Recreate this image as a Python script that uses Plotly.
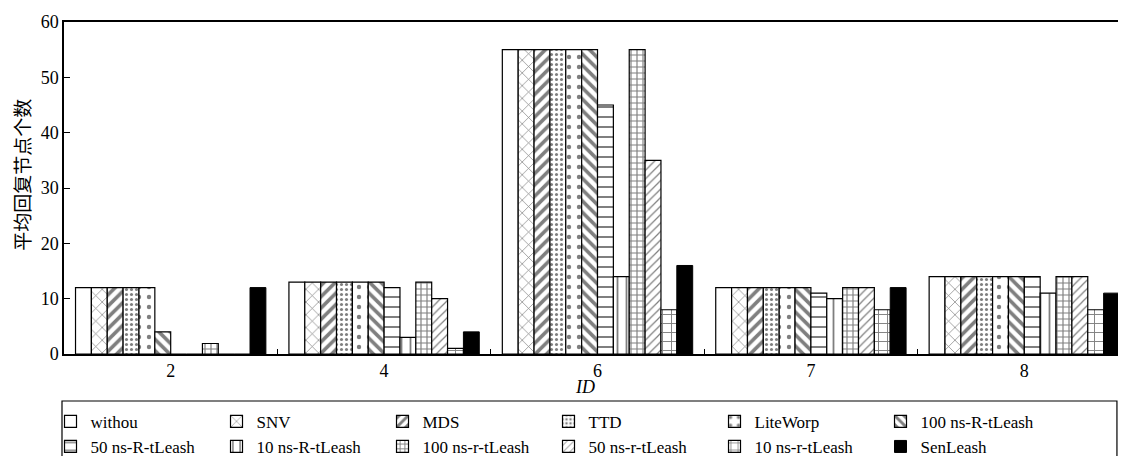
import plotly.graph_objects as go

ids = ["2", "4", "6", "7", "8"]
series_names = ["withou", "SNV", "MDS", "TTD", "LiteWorp", "100 ns-R-tLeash",
                "50 ns-R-tLeash", "10 ns-R-tLeash", "100 ns-r-tLeash",
                "50 ns-r-tLeash", "10 ns-r-tLeash", "SenLeash"]
withou = [12, 13, 55, 12, 14]
snv = [12, 13, 55, 12, 14]
mds = [12, 13, 55, 12, 14]
ttd = [12, 13, 55, 12, 14]
liteworp = [12, 13, 55, 12, 14]
r100 = [4, 13, 55, 12, 14]
r50 = [0, 12, 45, 11, 14]
r10 = [0, 3, 14, 10, 11]
lr100 = [1.9, 13, 55, 12, 14]
lr50 = [0, 10, 35, 12, 14]
lr10 = [0, 1, 8, 8, 8]
senleash = [12, 4, 16, 12, 11]

series_values = [withou, snv, mds, ttd, liteworp, r100, r50, r10, lr100, lr50, lr10, senleash]

patterns = [
    dict(shape=""),
    dict(shape="x", size=9, solidity=0.15),
    dict(shape="/", size=8, solidity=0.45),
    dict(shape=".", size=5, solidity=0.3),
    dict(shape=".", size=10, solidity=0.15),
    dict(shape="\\", size=8, solidity=0.45),
    dict(shape="-", size=10, solidity=0.2),
    dict(shape="|", size=9, solidity=0.2),
    dict(shape="+", size=6, solidity=0.35),
    dict(shape="/", size=6, solidity=0.2),
    dict(shape="+", size=9, solidity=0.2),
    None,
]

fig = go.Figure()
for name, vals, pat in zip(series_names, series_values, patterns):
    if pat is None:
        marker = dict(color="black", line=dict(color="black", width=1))
    else:
        p = dict(fgcolor="black", bgcolor="white", fillmode="overlay")
        p.update(pat)
        marker = dict(color="white", line=dict(color="black", width=1.2), pattern=p)
    fig.add_trace(go.Bar(x=ids, y=vals, name=name, marker=marker))

fig.update_layout(
    width=1110, height=448,
    margin=dict(l=56, r=0, t=14, b=102, autoexpand=False),
    paper_bgcolor="white", plot_bgcolor="white",
    barmode="group", bargap=0.108, bargroupgap=0,
    font=dict(family="Liberation Serif", size=17, color="black"),
    showlegend=True,
    legend=dict(orientation="h", x=-0.0128, y=-0.15, xanchor="left", yanchor="top",
                entrywidth=121, entrywidthmode="pixels",
                font=dict(family="Liberation Serif", size=17, color="black"),
                bgcolor="rgba(0,0,0,0)", borderwidth=0, tracegroupgap=0),
    shapes=[dict(type="rect", xref="paper", yref="paper",
                 x0=-0.0019, x1=0.999, y0=-0.3163, y1=-0.1416,
                 line=dict(color="black", width=1.2), fillcolor="rgba(0,0,0,0)")],
    annotations=[
        dict(text="<i>ID</i>", xref="paper", yref="paper", x=0.494, y=-0.099,
             xanchor="center", yanchor="middle", showarrow=False,
             font=dict(family="Liberation Serif", size=18)),
        dict(text="平均回复节点个数", xref="paper", yref="paper", x=-0.041, y=0.539,
             xanchor="center", yanchor="middle", showarrow=False, textangle=-90,
             font=dict(family="Noto Sans CJK SC", size=19)),
    ],
)

fig.update_xaxes(
    type="category", range=[-0.5, 4.439],
    showline=True, linecolor="black", linewidth=1.5, mirror=True,
    ticks="inside", tickson="boundaries", ticklen=5, tickcolor="black",
    showgrid=False, zeroline=False,
    tickfont=dict(family="Liberation Serif", size=18),
)
fig.update_yaxes(
    range=[0, 60], dtick=10,
    showline=True, linecolor="black", linewidth=1.5, mirror=False,
    ticks="inside", ticklen=6, tickcolor="black",
    showgrid=False, zeroline=False,
    tickfont=dict(family="Liberation Serif", size=18),
)

fig.write_html("out.html")
